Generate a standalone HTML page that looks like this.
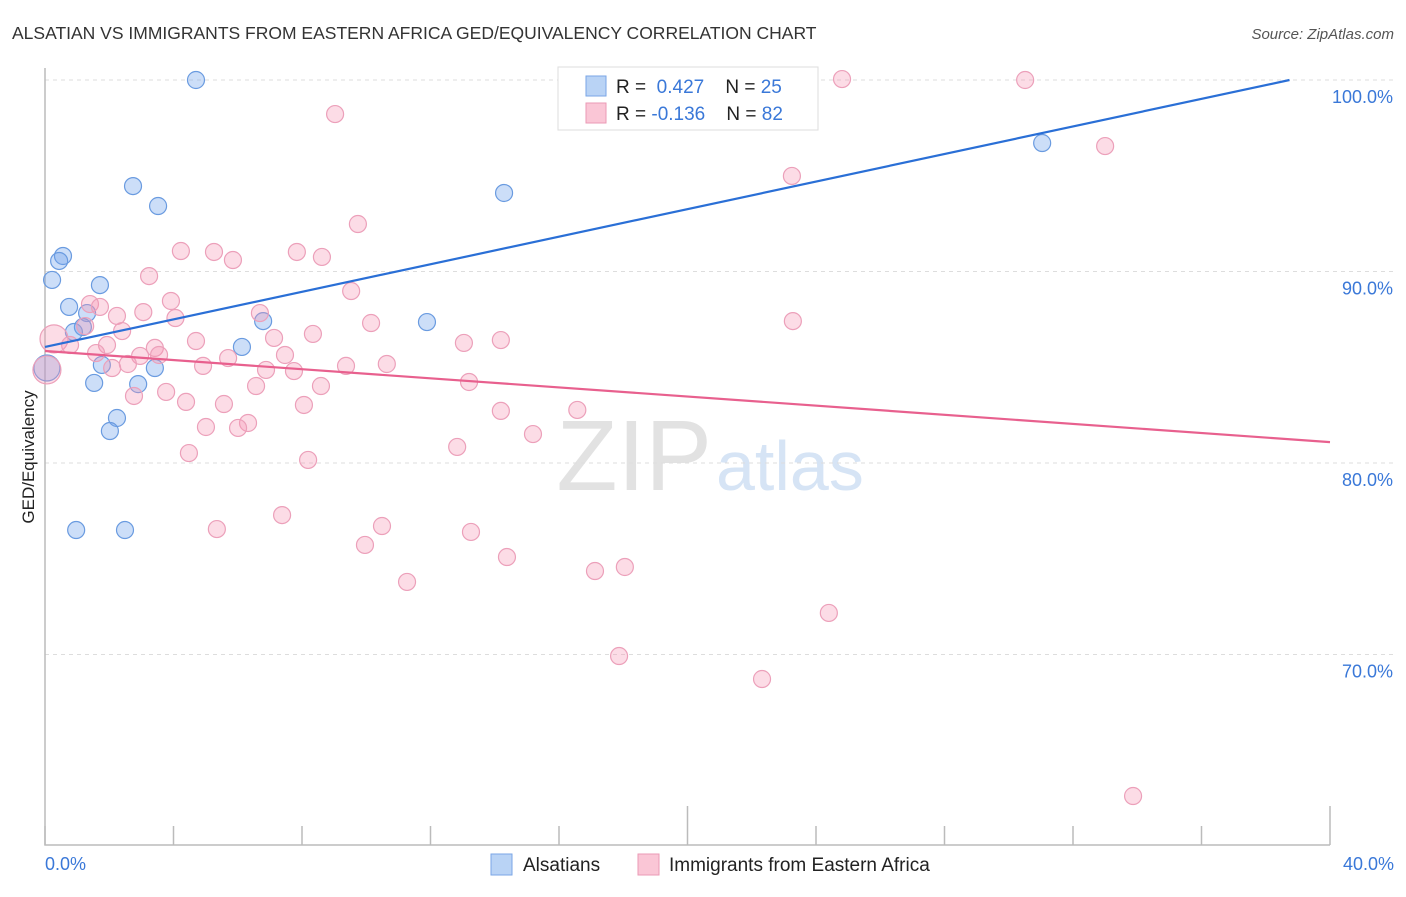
<!DOCTYPE html>
<html><head><meta charset="utf-8"><style>
body{margin:0;background:#fff;font-family:"Liberation Sans",sans-serif;}
svg text{font-family:"Liberation Sans",sans-serif;}
</style></head><body>
<svg id="chart" width="1406" height="892" xmlns="http://www.w3.org/2000/svg">
<text x="12" y="39" font-size="17.5" fill="#333">ALSATIAN VS IMMIGRANTS FROM EASTERN AFRICA GED/EQUIVALENCY CORRELATION CHART</text>
<text x="1394" y="39" font-size="15" fill="#555" font-style="italic" text-anchor="end">Source: ZipAtlas.com</text>
<text x="712" y="490" font-size="100" font-family="Liberation Serif" fill="#e2e2e2" text-anchor="end">ZIP</text>
<text x="716" y="490" font-size="70" fill="#d6e4f5">atlas</text>
<g id="grid"></g>
<g id="axes"></g>
<g id="marks"></g>
<text transform="translate(34,457) rotate(-90)" font-size="17" fill="#222" text-anchor="middle">GED/Equivalency</text>
<text x="45" y="870" font-size="18" fill="#3a78d8">0.0%</text>
<text x="1394" y="870" font-size="18" fill="#3a78d8" text-anchor="end">40.0%</text>
<g>
<rect x="558" y="67" width="260" height="63" fill="#fff" stroke="#ddd"/>
<rect x="586" y="76" width="20" height="20" fill="#b9d3f5" stroke="#7aa6e6"/>
<rect x="586" y="103" width="20" height="20" fill="#fac6d6" stroke="#eb9ab5"/>
<text x="616" y="93" font-size="19" fill="#222">R = <tspan fill="#3a78d8">&#160;0.427</tspan><tspan fill="#222">&#160;&#160;&#160;&#160;N = </tspan><tspan fill="#3a78d8">25</tspan></text>
<text x="616" y="120" font-size="19" fill="#222">R = <tspan fill="#3a78d8">-0.136</tspan><tspan fill="#222">&#160;&#160;&#160;&#160;N = </tspan><tspan fill="#3a78d8">82</tspan></text>
</g>
<g>
<rect x="491" y="854" width="21" height="21" fill="#b9d3f5" stroke="#7aa6e6"/>
<text x="523" y="871" font-size="19" fill="#222">Alsatians</text>
<rect x="638" y="854" width="21" height="21" fill="#fac6d6" stroke="#eb9ab5"/>
<text x="669" y="871" font-size="19" fill="#222">Immigrants from Eastern Africa</text>
</g>
</svg>
<script>
const yTicks=[100,90,80,70];
const yTickLabels=["100.0%","90.0%","80.0%","70.0%"];
const xTicks=[0,4,8,12,16,20,24,28,32,36,40];
const blueX=[4.70,2.74,3.52,14.29,31.04,0.56,0.44,0.22,1.71,0.75,1.31,1.18,6.79,11.89,6.13,1.77,3.42,1.53,2.90,2.24,2.02,0.97,2.49,0.06,0.90];
const blueY=[100,94.46,93.42,94.10,96.71,90.81,90.55,89.56,89.29,88.15,87.83,87.10,87.41,87.36,86.06,85.12,84.96,84.18,84.12,82.35,81.67,76.50,76.50,84.96,86.84];
const blueR=[8.5,8.5,8.5,8.5,8.5,8.5,8.5,8.5,8.5,8.5,8.5,8.5,8.5,8.5,8.5,8.5,8.5,8.5,8.5,8.5,8.5,8.5,8.5,13,8.5];
const pinkX=[24.81,30.51,9.03,33.00,23.25,9.74,4.23,5.26,7.84,5.85,8.62,3.24,9.53,3.92,1.40,1.71,3.06,4.06,2.24,6.69,10.15,23.28,1.25,2.40,8.34,4.70,7.13,13.04,14.19,0.28,0.78,1.93,3.42,3.55,1.59,2.96,5.70,7.47,9.37,10.64,2.58,4.92,2.09,6.88,7.75,0.06,13.20,6.57,8.59,3.77,2.77,4.39,5.57,8.06,14.19,16.57,6.32,5.01,6.01,15.19,12.83,4.48,8.19,5.35,7.38,10.49,13.26,9.96,14.38,11.27,17.12,18.05,24.40,17.87,22.32,33.87];
const pinkY=[100.05,100,98.22,96.55,94.99,92.48,91.07,91.02,91.02,90.60,90.76,89.76,88.98,88.46,88.30,88.15,87.88,87.57,87.68,87.83,87.31,87.41,87.15,86.89,86.74,86.37,86.53,86.27,86.42,86.48,86.16,86.16,86.01,85.64,85.74,85.59,85.48,85.64,85.07,85.17,85.17,85.07,84.96,84.86,84.80,84.86,84.23,84.02,84.02,83.71,83.50,83.19,83.08,83.03,82.72,82.77,82.09,81.88,81.83,81.51,80.84,80.52,80.16,76.55,77.28,76.71,76.40,75.72,75.09,73.79,74.36,74.57,72.17,69.92,68.72,62.61];
const pinkBig=[29,45];
const blueTrend=[0,86.06,38.74,100];
const pinkTrend=[0,85.85,40,81.09];
const NS="http://www.w3.org/2000/svg";
function sx(v){return 45+v/40*1285;}
function sy(v){return 80+(100-v)/10*191.5;}
function mk(t,a,p){const e=document.createElementNS(NS,t);for(const k in a)e.setAttribute(k,a[k]);p.appendChild(e);return e;}
const grid=document.getElementById('grid'),axes=document.getElementById('axes'),marks=document.getElementById('marks');
yTicks.forEach((t,i)=>{
  const l=mk('line',{x1:45,x2:1393,y1:sy(t),y2:sy(t),stroke:'#ddd','stroke-dasharray':'4,4'},grid);
  
  
  const tx=mk('text',{x:1393,y:sy(t)+23,'font-size':18,fill:'#3a78d8','text-anchor':'end'},grid);
  tx.textContent=yTickLabels[i];
  
  
});
const ax=mk('path',{d:'M45 68 V845 H1330',fill:'none',stroke:'#bbb','stroke-width':1.5},axes);


xTicks.forEach((t,i)=>{
  const tall=(t===20||t===40);
  const l=mk('line',{x1:sx(t),x2:sx(t),y1:tall?806:826,y2:845,stroke:'#bbb','stroke-width':1.5},axes);
  
  
});
blueX.forEach((x,i)=>{
  const c=mk('circle',{cx:sx(x),cy:sy(blueY[i]),r:blueR[i],fill:'rgba(110,160,235,0.35)',stroke:'#6a9be0','stroke-width':1.2},marks);
  
  
});
pinkX.forEach((x,i)=>{
  const big=pinkBig.includes(i);
  const c=mk('circle',{cx:sx(x),cy:sy(pinkY[i]),r:big?14:8.5,fill:'rgba(245,150,180,0.33)',stroke:'#eca0ba','stroke-width':1.2},marks);
  
  
});
const bl=mk('line',{x1:sx(blueTrend[0]),y1:sy(blueTrend[1]),x2:sx(blueTrend[2]),y2:sy(blueTrend[3]),stroke:'#2a6fd6','stroke-width':2.2},marks);


const pl=mk('line',{x1:sx(pinkTrend[0]),y1:sy(pinkTrend[1]),x2:sx(pinkTrend[2]),y2:sy(pinkTrend[3]),stroke:'#e8608e','stroke-width':2.2},marks);


</script>
</body></html>
